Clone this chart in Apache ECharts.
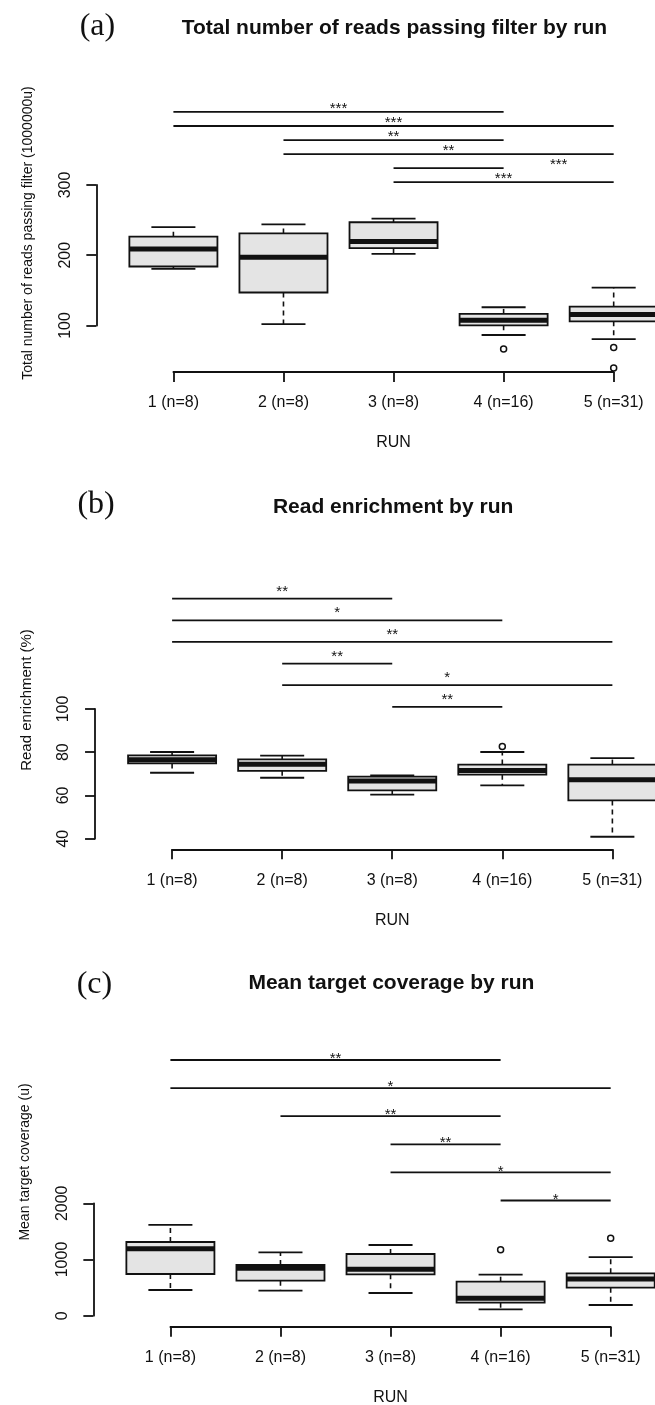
<!DOCTYPE html>
<html>
<head>
<meta charset="utf-8">
<title>Run QC boxplots</title>
<script src="https://cdn.jsdelivr.net/npm/echarts@6/dist/echarts.min.js"></script>
<style>
  html, body { margin: 0; padding: 0; background: #fff; }
  #main { width: 655px; height: 1405px; }
</style>
</head>
<body>
<div id="main"></div>
<script type="text/javascript">
// run labels, shared by all three panels
var runs = ['1 (n=8)', '2 (n=8)', '3 (n=8)', '4 (n=16)', '5 (n=31)'];

// (a) reads passing filter, one row per run: [low whisker, Q1, median, Q3, high whisker]
var readsBox = [
  [180.5, 184, 209, 226.5, 240],
  [102, 147, 197, 231, 244],
  [202, 210, 219.5, 247, 252],
  [86.5, 100.3, 107.5, 116.5, 126],
  [80.5, 106, 115.5, 127, 154]
];
var readsOut = [[4, 66.5], [5, 68.5], [5, 39.5]];
var readsTicks = [100, 200, 300];
// significance bars: [from run, to run, height, star from run, star to run]
var readsSig = [
  [1, 4, 404, 1, 4],
  [1, 5, 384, 1, 5],
  [2, 4, 364, 2, 4],
  [2, 5, 344, 2, 5],
  [3, 4, 324, 4, 5],
  [3, 5, 304, 3, 5]
];
var readsStars = ['***', '***', '**', '**', '***', '***'];

// (b) read enrichment (%)
var enrichBox = [
  [70.5, 74.8, 76.5, 78.5, 80.1],
  [68.2, 71.4, 74.4, 76.7, 78.4],
  [60.4, 62.4, 66.7, 68.7, 69.3],
  [64.7, 69.6, 71.5, 74.3, 80.1],
  [40.9, 57.7, 67.3, 74.3, 77.3]
];
var enrichOut = [[4, 82.6]];
var enrichTicks = [40, 60, 80, 100];
var enrichSig = [
  [1, 3, 151, 1, 3],
  [1, 4, 141, 1, 4],
  [1, 5, 131, 1, 5],
  [2, 3, 121, 2, 3],
  [2, 5, 111, 2, 5],
  [3, 4, 101, 3, 4]
];
var enrichStars = ['**', '*', '**', '**', '*', '**'];

// (c) mean target coverage
var coverBox = [
  [457, 742, 1192, 1311, 1615],
  [445, 623, 843, 902, 1128],
  [404, 737, 826, 1098, 1258],
  [114, 231, 309, 605, 730],
  [190, 498, 653, 754, 1044]
];
var coverOut = [[4, 1175], [5, 1377]];
var coverTicks = [0, 1000, 2000];
var coverSig = [
  [1, 4, 4550, 1, 4],
  [1, 5, 4050, 1, 5],
  [2, 4, 3550, 2, 4],
  [3, 4, 3050, 3, 4],
  [3, 5, 2550, 3, 5],
  [4, 5, 2050, 4, 5]
];
var coverStars = ['**', '*', '**', '**', '*', '*'];

var INK = '#111';
var BOX_FILL = '#e4e4e4';
var FONT = '"Liberation Sans", Arial, Helvetica, sans-serif';
var STEP = 110.07;      // px between two runs
var BOX_WEX = 0.8;      // box width in run units
var CAP_WEX = 0.4;      // whisker cap width

var panels = [
  { letter: '(a)', title: 'Total number of reads passing filter by run',
    yTitle: 'Total number of reads passing filter (1000000u)',
    box: readsBox, out: readsOut, ticks: readsTicks, sig: readsSig, stars: readsStars,
    tick1: 173.4, axisY: 372, ppu: 0.7025, yMin: 33.8, yMax: 420,
    letterY: 27, titleY: 28, yTitleY: 233, yTitleSize: 14, starLift: 3 },
  { letter: '(b)', title: 'Read enrichment by run',
    yTitle: 'Read enrichment (%)',
    box: enrichBox, out: enrichOut, ticks: enrichTicks, sig: enrichSig, stars: enrichStars,
    tick1: 172.1, axisY: 849.3, ppu: 2.162, yMin: 35.1, yMax: 160,
    letterY: 505, titleY: 507, yTitleY: 700, yTitleSize: 15, starLift: 7 },
  { letter: '(c)', title: 'Mean target coverage by run',
    yTitle: 'Mean target coverage (u)',
    box: coverBox, out: coverOut, ticks: coverTicks, sig: coverSig, stars: coverStars,
    tick1: 170.4, axisY: 1326.7, ppu: 0.0562, yMin: -195.7, yMax: 4700,
    letterY: 985, titleY: 983, yTitleY: 1162, yTitleSize: 14, starLift: 1 }
];

function renderBox(params, api) {
  var x = api.value(0);
  var lo = api.coord([x, api.value(1)]);
  var q1 = api.coord([x, api.value(2)]);
  var md = api.coord([x, api.value(3)]);
  var q3 = api.coord([x, api.value(4)]);
  var hi = api.coord([x, api.value(5)]);
  var half = api.size([BOX_WEX, 0])[0] / 2;
  var cap = api.size([CAP_WEX, 0])[0] / 2;
  var cx = md[0];
  var solid = { stroke: INK, lineWidth: 1.8 };
  var dash = { stroke: INK, lineWidth: 1.6, lineDash: [5, 4] };
  return {
    type: 'group',
    children: [
      { type: 'line', shape: { x1: cx, y1: q3[1], x2: cx, y2: hi[1] }, style: dash },
      { type: 'line', shape: { x1: cx, y1: q1[1], x2: cx, y2: lo[1] }, style: dash },
      { type: 'line', shape: { x1: cx - cap, y1: hi[1], x2: cx + cap, y2: hi[1] }, style: solid },
      { type: 'line', shape: { x1: cx - cap, y1: lo[1], x2: cx + cap, y2: lo[1] }, style: solid },
      { type: 'rect', shape: { x: cx - half, y: q3[1], width: 2 * half, height: q1[1] - q3[1] },
        style: { fill: BOX_FILL, stroke: INK, lineWidth: 1.8 } },
      { type: 'line', shape: { x1: cx - half, y1: md[1], x2: cx + half, y2: md[1] },
        style: { stroke: INK, lineWidth: 5 } }
    ]
  };
}

function sigRenderer(stars, lift) {
  return function (params, api) {
    var y = api.value(2);
    var a = api.coord([api.value(0), y]);
    var b = api.coord([api.value(1), y]);
    var la = api.coord([api.value(3), y]);
    var lb = api.coord([api.value(4), y]);
    return {
      type: 'group',
      children: [
        { type: 'line', shape: { x1: a[0], y1: a[1], x2: b[0], y2: b[1] },
          style: { stroke: INK, lineWidth: 1.8 } },
        { type: 'text', x: (la[0] + lb[0]) / 2, y: a[1] - lift,
          style: { text: stars[params.dataIndex], fontSize: 15, fontFamily: FONT, fill: INK,
                   align: 'center', verticalAlign: 'middle',
                   textAlign: 'center', textVerticalAlign: 'middle' } }
      ]
    };
  };
}

var option = {
  animation: false,
  backgroundColor: '#fff',
  textStyle: { fontFamily: FONT },
  grid: [], xAxis: [], yAxis: [], series: [], graphic: []
};

panels.forEach(function (p) {
  var span = p.yMax - p.yMin;
  var t = p.ticks;
  var tMin = t[0], tMax = t[t.length - 1];
  var axisLine = { show: true, onZero: false, lineStyle: { color: INK, width: 1.8 } };
  var axisTick = { show: true, length: 10, lineStyle: { color: INK, width: 1.8 } };

  // data grid: x axis = the run axis, y axis hidden
  var gi = option.grid.length;
  option.grid.push({ left: p.tick1, width: 4 * STEP, top: p.axisY - span * p.ppu,
                     height: span * p.ppu, outerBoundsMode: 'none' });
  option.xAxis.push({
    gridIndex: gi, type: 'value', min: 1, max: runs.length, interval: 1,
    axisLine: axisLine, axisTick: axisTick, splitLine: { show: false },
    axisLabel: { margin: 23, fontSize: 16, color: INK, showMinLabel: true, showMaxLabel: true,
                 formatter: function (v) { return runs[v - 1]; } },
    name: 'RUN', nameLocation: 'middle', nameGap: 63,
    nameTextStyle: { fontSize: 16, color: INK }
  });
  option.yAxis.push({ gridIndex: gi, type: 'value', min: p.yMin, max: p.yMax, show: false });

  // y axis only over its tick range, like R draws it
  var ai = option.grid.length;
  option.grid.push({ left: p.tick1 - 0.7 * STEP, width: 10,
                     top: p.axisY - (tMax - p.yMin) * p.ppu,
                     height: (tMax - tMin) * p.ppu, outerBoundsMode: 'none' });
  option.xAxis.push({ gridIndex: ai, type: 'value', min: 0, max: 1, show: false });
  option.yAxis.push({
    gridIndex: ai, type: 'value', min: tMin, max: tMax, interval: t[1] - t[0],
    axisLine: axisLine, axisTick: axisTick, splitLine: { show: false },
    axisLabel: { rotate: 90, margin: 23, fontSize: 16, color: INK,
                 showMinLabel: true, showMaxLabel: true,
                 formatter: function (v) { return String(v); } }
  });

  option.series.push({
    type: 'custom', xAxisIndex: gi, yAxisIndex: gi, silent: true, z: 3,
    data: p.box.map(function (b, k) { return [k + 1].concat(b); }),
    encode: { x: 0, y: [1, 2, 3, 4, 5] },
    renderItem: renderBox
  });
  option.series.push({
    type: 'scatter', xAxisIndex: gi, yAxisIndex: gi, silent: true, z: 4,
    symbol: 'circle', symbolSize: 6, data: p.out,
    itemStyle: { color: '#fff', borderColor: INK, borderWidth: 1.5, opacity: 1 }
  });
  option.series.push({
    type: 'custom', xAxisIndex: gi, yAxisIndex: gi, silent: true, z: 2,
    data: p.sig, encode: { x: [0, 1], y: 2 },
    renderItem: sigRenderer(p.stars, p.starLift)
  });

  option.graphic.push(
    { type: 'text', x: p.tick1 - 76, y: p.letterY, silent: true,
      style: { text: p.letter, font: '32px "Liberation Serif", "DejaVu Serif", serif', fill: INK,
               align: 'center', verticalAlign: 'middle', textAlign: 'center', textVerticalAlign: 'middle' } },
    { type: 'text', x: p.tick1 + 221, y: p.titleY, silent: true,
      style: { text: p.title, font: 'bold 21px ' + FONT, fill: INK,
               align: 'center', verticalAlign: 'middle', textAlign: 'center', textVerticalAlign: 'middle' } },
    { type: 'text', x: p.tick1 - 0.7 * STEP - 68, y: p.yTitleY, rotation: Math.PI / 2, silent: true,
      style: { text: p.yTitle, font: p.yTitleSize + 'px ' + FONT, fill: INK,
               align: 'center', verticalAlign: 'middle', textAlign: 'center', textVerticalAlign: 'middle' } }
  );
});

var myChart = echarts.init(document.getElementById('main'), null, { renderer: 'canvas' });
myChart.setOption(option);
</script>
</body>
</html>
